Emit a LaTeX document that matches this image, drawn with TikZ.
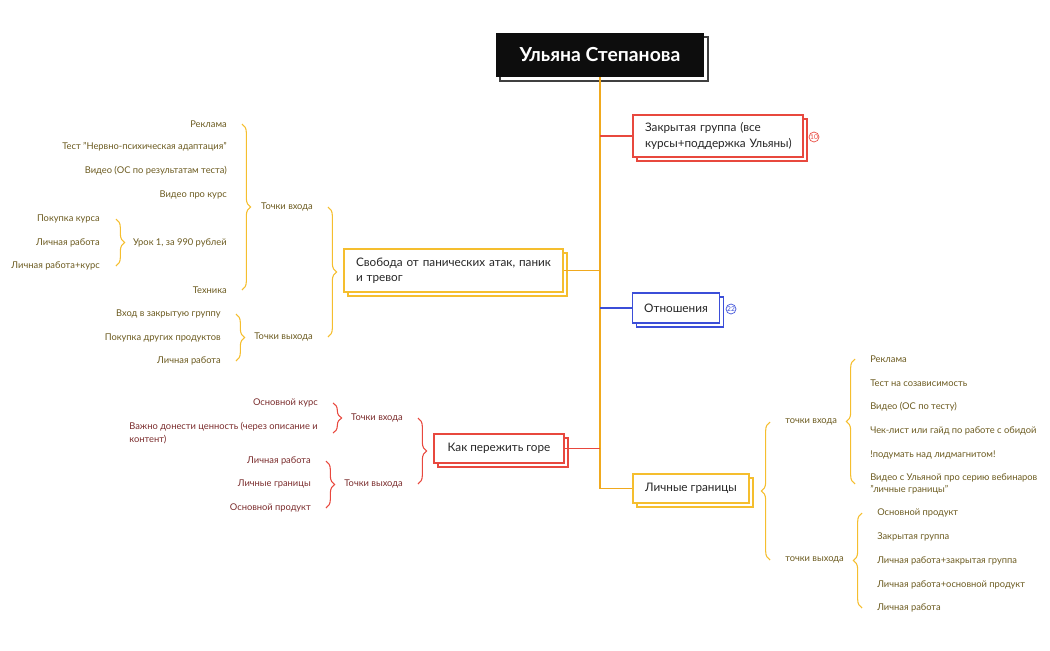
\documentclass[tikz,border=0pt]{standalone}
\usepackage{fontspec}
\setmainfont{Lato}
\usetikzlibrary{shadows,decorations.pathreplacing,calc}

\definecolor{goldline}{HTML}{F5BE2E}
\definecolor{trunkline}{HTML}{F0A91E}
\definecolor{redline}{HTML}{E8483E}
\definecolor{blueline}{HTML}{3B4ED8}
\definecolor{goldtext}{HTML}{6B5A1F}
\definecolor{redtext}{HTML}{7A2C2C}

\tikzset{
  box/.style={draw=#1, fill=white, line width=1pt, text=black!85,
    font=\fontsize{8.8}{11.5}\selectfont, inner xsep=9pt, inner ysep=0pt,
    general shadow={shadow xshift=3pt, shadow yshift=-3pt, fill=white, draw=#1, line width=1pt}},
  lbl/.style={inner sep=0pt, text=#1, font=\fontsize{7}{9.5}\selectfont},
  brc/.style={draw=#1, line width=0.8pt, decorate, decoration={brace, amplitude=6.5pt}},
  badge/.style={circle, draw=#1, text=#1, line width=0.5pt, inner sep=0pt,
    minimum size=7.5pt, font=\fontsize{5}{5}\selectfont},
  link/.style={draw=#1, line width=0.8pt}
}

\begin{document}
\begin{tikzpicture}[x=0.75pt, y=-0.75pt]
	\useasboundingbox (0,0) rectangle (1050,650);

	% main topic
	\node[fill=black!95, text=white, minimum width=156pt, minimum height=33pt,
		font=\fontsize{14.5}{16}\selectfont\bfseries,
		general shadow={shadow xshift=3pt, shadow yshift=-3pt, fill=white, draw=black!75, line width=0.8pt}]
		(title) at (600,55) {Ульяна Степанова};

	% topics
	\node[box=redline, text width=109.5pt, minimum height=31.5pt, align=left] (zg) at (718,136) {\mbox{Закрытая группа (все}\\\mbox{курсы+поддержка Ульяны)}};
	\node[box=goldline, text width=146.25pt, minimum height=32.25pt, align=left] (sv) at (453.5,270.5) {\mbox{Свобода от панических атак, паник}\\и тревог};
	\node[box=blueline, minimum width=64.5pt, minimum height=22.5pt] (otn) at (676,308) {Отношения};
	\node[box=redline, minimum width=97.5pt, minimum height=21.75pt] (gore) at (499,448.5) {Как пережить горе};
	\node[box=goldline, minimum width=87pt, minimum height=21.75pt] (lg) at (691,488.5) {Личные границы};
	\node[badge=redline] (zgN) at (814,137) {10};
	\node[badge=blueline] (otnN) at (731,309) {22};

	% trunk and branches
	\draw[link=trunkline] (title.south) -- (title.south |- lg.west);
	\draw[link=redline] (title.south |- zg.west) -- (zg.west);
	\draw[link=trunkline] (title.south |- sv.east) -- (sv.east);
	\draw[link=blueline] (title.south |- otn.west) -- (otn.west);
	\draw[link=redline] (title.south |- gore.east) -- (gore.east);
	\draw[link=trunkline] (title.south |- lg.west) -- (lg.west);

	% Свобода от панических атак
	\node[lbl=goldtext, anchor=east] (svIn) at (313,207) {Точки входа};
	\node[lbl=goldtext, anchor=east] (svOut) at (313,337) {Точки выхода};
	\draw[brc=goldline] ($(svIn.east)+(15,0)$) -- ($(svOut.east)+(15,0)$);

	\node[lbl=goldtext, anchor=east] (svIn1) at (227,124) {Реклама};
	\node[lbl=goldtext, anchor=east] (svIn2) at (227,147) {Тест "Нервно-психическая адаптация"};
	\node[lbl=goldtext, anchor=east] (svIn3) at (227,171) {Видео (ОС по результатам теста)};
	\node[lbl=goldtext, anchor=east] (svIn4) at (227,195) {Видео про курс};
	\node[lbl=goldtext, anchor=east] (svIn5) at (227,243) {Урок 1, за 990 рублей};
	\node[lbl=goldtext, anchor=east] (svIn6) at (227,290) {Техника};
	\draw[brc=goldline] ($(svIn1.east)+(15,0)$) -- ($(svIn6.east)+(15,0)$);

	\node[lbl=goldtext, anchor=east] (urok1) at (100,219) {Покупка курса};
	\node[lbl=goldtext, anchor=east] (urok2) at (100,243) {Личная работа};
	\node[lbl=goldtext, anchor=east] (urok3) at (100,266) {Личная работа+курс};
	\draw[brc=goldline] ($(urok1.east)+(16,0)$) -- ($(urok3.east)+(16,0)$);

	\node[lbl=goldtext, anchor=east] (svOut1) at (221,314) {Вход в закрытую группу};
	\node[lbl=goldtext, anchor=east] (svOut2) at (221,338) {Покупка других продуктов};
	\node[lbl=goldtext, anchor=east] (svOut3) at (221,361) {Личная работа};
	\draw[brc=goldline] ($(svOut1.east)+(15,0)$) -- ($(svOut3.east)+(15,0)$);

	% Как пережить горе
	\node[lbl=redtext, anchor=east] (gIn) at (403,418) {Точки входа};
	\node[lbl=redtext, anchor=east] (gOut) at (403,484) {Точки выхода};
	\draw[brc=redline] ($(gIn.east)+(15,0)$) -- ($(gOut.east)+(15,0)$);

	\node[lbl=redtext, anchor=east] (gIn1) at (318,403) {Основной курс};
	\node[lbl=redtext, anchor=east, align=left] (gIn2) at (318,433) {Важно донести ценность (через описание и\\контент)};
	\draw[brc=redline] ($(gIn1.east)+(15,0)$) -- ($(gIn2.east)+(15,0)$);

	\node[lbl=redtext, anchor=east] (gOut1) at (311,461) {Личная работа};
	\node[lbl=redtext, anchor=east] (gOut2) at (311,484) {Личные границы};
	\node[lbl=redtext, anchor=east] (gOut3) at (311,508) {Основной продукт};
	\draw[brc=redline] ($(gOut1.east)+(15,0)$) -- ($(gOut3.east)+(15,0)$);

	% Личные границы
	\node[lbl=goldtext, anchor=west] (lgIn) at (785,422) {точки входа};
	\node[lbl=goldtext, anchor=west] (lgOut) at (785,560) {точки выхода};
	\draw[brc=goldline] ($(lgOut.west)+(-15,0)$) -- ($(lgIn.west)+(-15,0)$);

	\node[lbl=goldtext, anchor=west] (lgIn1) at (870,359) {Реклама};
	\node[lbl=goldtext, anchor=west] (lgIn2) at (870,383) {Тест на созависимость};
	\node[lbl=goldtext, anchor=west] (lgIn3) at (870,407) {Видео (ОС по тесту)};
	\node[lbl=goldtext, anchor=west] (lgIn4) at (870,431) {Чек-лист или гайд по работе с обидой};
	\node[lbl=goldtext, anchor=west] (lgIn5) at (870,455) {!подумать над лидмагнитом!};
	\node[lbl=goldtext, anchor=west, align=left] (lgIn6) at (870,484) {Видео с Ульяной про серию вебинаров\\"личные границы"};
	\draw[brc=goldline] ($(lgIn6.west)+(-15,0)$) -- ($(lgIn1.west)+(-15,0)$);

	\node[lbl=goldtext, anchor=west] (lgOut1) at (877,513) {Основной продукт};
	\node[lbl=goldtext, anchor=west] (lgOut2) at (877,537) {Закрытая группа};
	\node[lbl=goldtext, anchor=west] (lgOut3) at (877,561) {Личная работа+закрытая группа};
	\node[lbl=goldtext, anchor=west] (lgOut4) at (877,585) {Личная работа+основной продукт};
	\node[lbl=goldtext, anchor=west] (lgOut5) at (877,608) {Личная работа};
	\draw[brc=goldline] ($(lgOut5.west)+(-15,0)$) -- ($(lgOut1.west)+(-15,0)$);
\end{tikzpicture}
\end{document}
